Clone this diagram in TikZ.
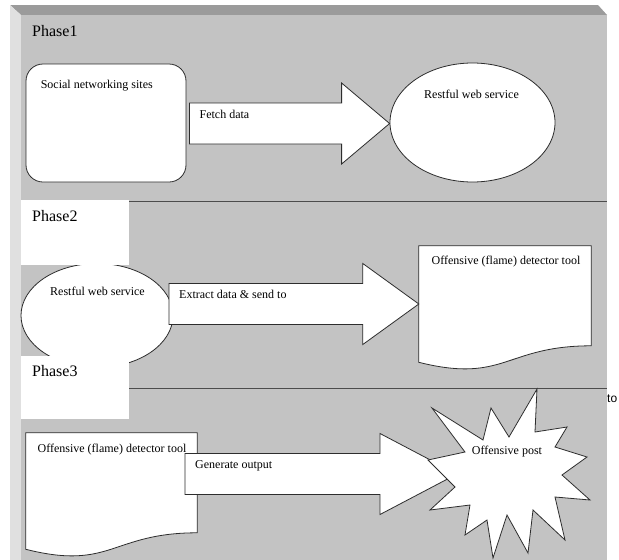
\documentclass[tikz,border=0pt]{standalone}
\usepackage{fontspec}
\setmainfont{Liberation Serif}
\newfontfamily\notefont{Liberation Sans}
\usetikzlibrary{shapes.geometric,calc}

\definecolor{panelgray}{RGB}{195,195,195}
\definecolor{bandgray}{RGB}{155,155,155}
\definecolor{edgegray}{RGB}{224,224,224}
\definecolor{outline}{RGB}{45,45,45}

\tikzset{
  shapeline/.style={draw=outline, line width=0.8pt, fill=white},
  lbl/.style={inner sep=0pt, font=\fontsize{12}{14}\selectfont},
  phaselbl/.style={inner sep=0pt, anchor=north west, font=\fontsize{16}{19}\selectfont},
  divider/.style={draw=outline!85, line width=1pt},
  docbox/.style={inner sep=0pt, minimum height=124.7pt},
}

% block arrow: tail, tip, head length, label
\newcommand{\blockarrow}[4]{%
  \draw[shapeline] let \p1=(#1), \p2=(#2) in
    (\x1,\y1+20.5pt) -- (\x2-#3,\y1+20.5pt) -- (\x2-#3,\y1+40.5pt) -- (\x2,\y1)
    -- (\x2-#3,\y1-40.5pt) -- (\x2-#3,\y1-20.5pt) -- (\x1,\y1-20.5pt) -- cycle;
  \node[lbl, anchor=north west] at ($(#1)+(10,-14)$) {#4};
}

\begin{document}
\begin{tikzpicture}[x=1pt, y=-1pt]
    \useasboundingbox (0,0) rectangle (619,560);
    \fill[white] (0,0) rectangle (619,560);

    % Panel
    \fill[bandgray] (10,5) -- (598,5) -- (607,15) -- (21,15) -- cycle;
    \fill[edgegray] (10,5) -- (21,15) -- (21,560) -- (10,560) -- cycle;
    \fill[panelgray] (21,15) rectangle (607,560);
    \draw[divider] (129,201) -- (607,201);
    \draw[divider] (129,388) -- (607,388);

    % Phase 1
    \node[phaselbl] (ph1) at (32,25) {Phase1};
    \node[shapeline, rounded corners=17pt, minimum width=160pt, minimum height=118pt, inner sep=0pt] (social) at (106,123) {};
    \node[lbl, anchor=north west] (socialtxt) at ($(social.north west)+(15,16)$) {Social networking sites};
    \coordinate (fetchtail) at ($(social.east)+(3,0.5)$);
    \node[shapeline, ellipse, minimum width=165pt, minimum height=119pt, inner sep=0pt] (rest1) at (472.5,122.5) {};
    \node[lbl, anchor=north] (rest1txt) at ($(rest1.north)+(-1,27)$) {Restful web service};
    \blockarrow{fetchtail}{rest1.west}{48pt}{Fetch data}

    % Phase 2
    \node[shapeline, ellipse, minimum width=152pt, minimum height=104pt, inner sep=0pt] (rest2) at (97,315.5) {};
    \node[lbl, anchor=north] (rest2txt) at ($(rest2.north)+(0.5,24)$) {Restful web service};
    \fill[white] (21,200) rectangle (129,264.5);
    \fill[white] (21,356) rectangle (129,419);
    \node[phaselbl] (ph2) at (32,210.5) {Phase2};
    \node[phaselbl] (ph3) at (32,365.5) {Phase3};
    \node[docbox, minimum width=172pt] (tool1) at (505,308.35) {};
    \draw[shapeline] (tool1.north west) -- (tool1.north east) -- ($(tool1.north east)+(0,100)$)
        .. controls ($(tool1.north)+(0,100)$) and ($(tool1.north)+(0,138)$) .. ($(tool1.north west)+(0,116.5)$) -- cycle;
    \node[lbl, anchor=north] (tool1txt) at ($(tool1.north)+(1,10.5)$) {Offensive (flame) detector tool};
    \coordinate (extracttail) at (169,304);
    \blockarrow{extracttail}{tool1.west}{56pt}{Extract data \& send to}

    % Phase 3
    \node[docbox, minimum width=171pt] (tool2) at (111.5,495.35) {};
    \draw[shapeline] (tool2.north west) -- (tool2.north east) -- ($(tool2.north east)+(0,100)$)
        .. controls ($(tool2.north)+(0,100)$) and ($(tool2.north)+(0,138)$) .. ($(tool2.north west)+(0,116.5)$) -- cycle;
    \node[lbl, anchor=north] (tool2txt) at ($(tool2.north)+(0.5,11)$) {Offensive (flame) detector tool};
    \coordinate (outtail) at (185,474);
    \coordinate (posttip) at (457,474);
    \blockarrow{outtail}{posttip}{77pt}{Generate output}
    \draw[shapeline, line join=miter] (537,389) -- (535,432) -- (567,427) -- (555,447) -- (587,457)
        -- (562,475) -- (590,500) -- (555,497) -- (565,540) -- (533,510) -- (528,553)
        -- (507,515) -- (493,558) -- (487,520) -- (465,535) -- (470,505) -- (430,510)
        -- (455,487) -- (428,460) -- (465,452) -- (432,408) -- (483,440) -- (491,408)
        -- (509,437) -- cycle;
    \node[lbl, anchor=north] (posttxt) at (507,445.5) {Offensive post};

    \node[inner sep=0pt, anchor=base west, font=\notefont\fontsize{12}{14}\selectfont] (tonote) at (607,402) {to};
\end{tikzpicture}
\end{document}
